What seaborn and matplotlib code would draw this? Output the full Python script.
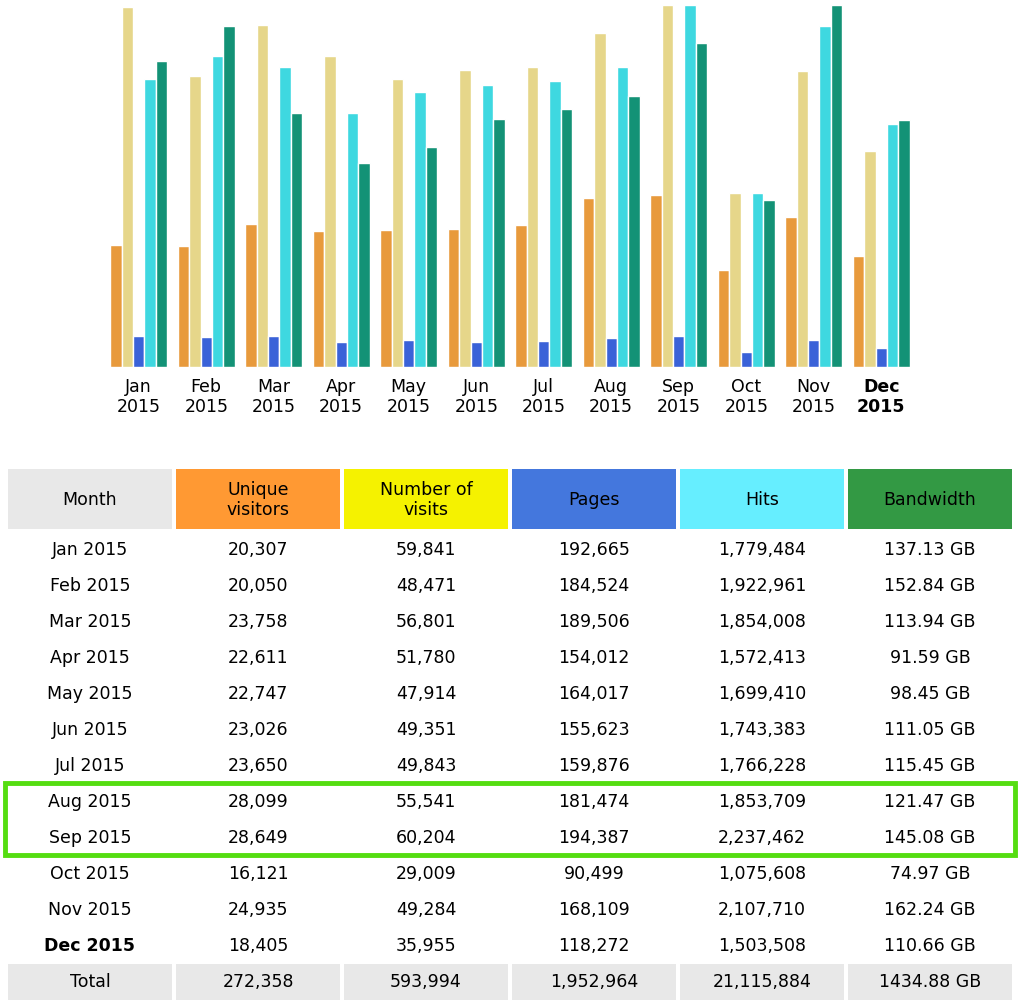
import matplotlib
matplotlib.use("Agg")
import matplotlib.pyplot as plt
import seaborn as sns
import pandas as pd
from matplotlib.patches import Rectangle

months = ["Jan 2015","Feb 2015","Mar 2015","Apr 2015","May 2015","Jun 2015",
          "Jul 2015","Aug 2015","Sep 2015","Oct 2015","Nov 2015","Dec 2015"]
unique = [20307,20050,23758,22611,22747,23026,23650,28099,28649,16121,24935,18405]
visits = [59841,48471,56801,51780,47914,49351,49843,55541,60204,29009,49284,35955]
pages = [192665,184524,189506,154012,164017,155623,159876,181474,194387,90499,168109,118272]
hits = [1779484,1922961,1854008,1572413,1699410,1743383,1766228,1853709,2237462,1075608,2107710,1503508]
bandwidth = [137.13,152.84,113.94,91.59,98.45,111.05,115.45,121.47,145.08,74.97,162.24,110.66]
totals = ["272,358","593,994","1,952,964","21,115,884","1434.88 GB"]

series = ["Unique visitors","Number of visits","Pages","Hits","Bandwidth"]
bar_colors = ["#E89A3C","#E6D68A","#3A62D8","#3ED8E0","#139276"]
head_colors = ["#FF9933","#F5F200","#4477DD","#66EEFF","#339944"]

vmax = max(visits); hmax = max(hits); bmax = max(bandwidth)
rows = []
for i, m in enumerate(months):
    rows += [(m, series[0], unique[i]/vmax), (m, series[1], visits[i]/vmax),
             (m, series[2], pages[i]/hmax), (m, series[3], hits[i]/hmax),
             (m, series[4], bandwidth[i]/bmax)]
df = pd.DataFrame(rows, columns=["month","series","value"])

W, H = 1024, 1008
sns.set_style("white")
plt.rcParams["text.color"] = "black"
plt.rcParams["xtick.color"] = "black"
fig = plt.figure(figsize=(W/100, H/100), dpi=100)

ax = fig.add_axes([105/W, 1-367/H, 810/W, 362/H])
sns.barplot(data=df, x="month", y="value", hue="series", palette=bar_colors,
            width=0.84, ax=ax, legend=False, saturation=1)
ax.set_ylim(0, 1)
ax.set_xlim(-0.5, 11.5)
for s in ax.spines.values():
    s.set_visible(False)
ax.set_yticks([])
ax.set_xlabel(""); ax.set_ylabel("")
ax.set_xticks(range(12))
ax.set_xticklabels([m.replace(" ", "\n") for m in months], fontsize=12.5, linespacing=1.1, color="black")
ax.tick_params(axis="x", length=0, pad=8)
ax.get_xticklabels()[-1].set_fontweight("bold")

t = fig.add_axes([0, 0, 1, 1])
t.set_xlim(0, W); t.set_ylim(H, 0); t.axis("off")
cols = [(8,172),(176,340),(344,508),(512,676),(680,844),(848,1012)]
heads = ["Month","Unique\nvisitors","Number of\nvisits","Pages","Hits","Bandwidth"]
fcs = ["#E8E8E8"] + head_colors
for (x0,x1), h, c in zip(cols, heads, fcs):
    t.add_patch(Rectangle((x0,469), x1-x0, 60, facecolor=c, edgecolor="none"))
    t.text((x0+x1)/2, 500, h, ha="center", va="center", fontsize=12.5, linespacing=1.1, color="black")
for i, m in enumerate(months):
    y = 550 + 36*i
    vals = [m, f"{unique[i]:,}", f"{visits[i]:,}", f"{pages[i]:,}", f"{hits[i]:,}", f"{bandwidth[i]:.2f} GB"]
    for j, ((x0,x1), v) in enumerate(zip(cols, vals)):
        t.text((x0+x1)/2, y, v, ha="center", va="center", fontsize=12.5, color="black",
               fontweight="bold" if (i == 11 and j == 0) else "normal")
for j, ((x0,x1), v) in enumerate(zip(cols, ["Total"] + totals)):
    t.add_patch(Rectangle((x0,964), x1-x0, 36, facecolor="#E8E8E8", edgecolor="none"))
    t.text((x0+x1)/2, 982, v, ha="center", va="center", fontsize=12.5, color="black")
t.add_patch(Rectangle((5,783), 1010, 72, facecolor="none", edgecolor="#55DD11", linewidth=3.5))

fig.savefig("out.png", dpi=100)
